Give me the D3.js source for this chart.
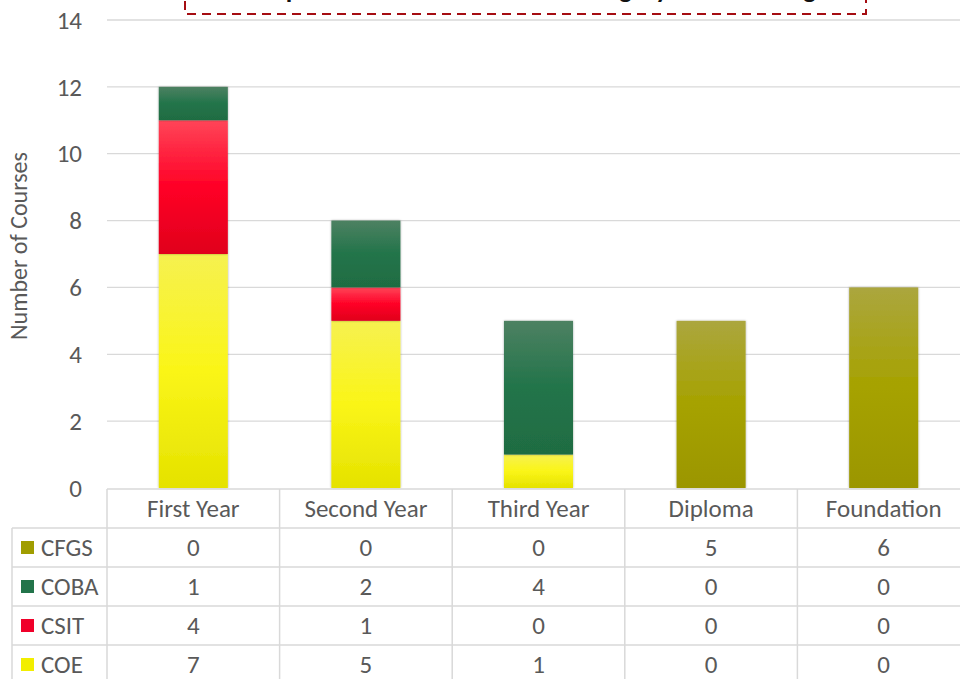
<!DOCTYPE html>
<html>
<head>
<meta charset="utf-8">
<script src="https://cdn.jsdelivr.net/npm/d3@7"></script>
<style>
  body { margin: 0; background: #fff; }
  svg { display: block; font-family: Calibri, Carlito, Lato, "Open Sans", sans-serif; }
  .grid line { stroke: #d9d9d9; stroke-width: 1.3; }
  .tick-label, .cell { fill: #595959; font-size: 25px; }
  .tline { stroke: #d9d9d9; stroke-width: 1.5; }
</style>
</head>
<body>
<svg id="chart" width="960" height="679"></svg>
<script>
// chart data
const categories = ['First Year', 'Second Year', 'Third Year', 'Diploma', 'Foundation'];
const seriesNames = ['COE', 'CSIT', 'COBA', 'CFGS'];   // stacking order, bottom to top
const coe  = [7, 5, 1, 0, 0];
const csit = [4, 1, 0, 0, 0];
const coba = [1, 2, 4, 0, 0];
const cfgs = [0, 0, 0, 5, 6];
const yTicks = [0, 2, 4, 6, 8, 10, 12, 14];
const tableRows = ['CFGS', 'COBA', 'CSIT', 'COE'];     // order of rows in the data table

const seriesValues = { COE: coe, CSIT: csit, COBA: coba, CFGS: cfgs };
const colors = {
    COE:  ['#f6f150', '#faf517', '#e5e200'],
    CSIT: ['#ff4558', '#ff0026', '#e0001c'],
    COBA: ['#4d8162', '#22744a', '#1f6c42'],
    CFGS: ['#aba63e', '#a6a200', '#9b9600']
};
const legendColors = { COE: '#f2ee00', CSIT: '#f0002a', COBA: '#22744a', CFGS: '#a09d00' };

const svg = d3.select('#chart');
const plotLeft = 107, plotRight = 970, plotTop = 20, plotBottom = 488;

const x = d3.scaleBand().domain(categories).range([plotLeft, plotRight])
    .paddingInner(0.6).paddingOuter(0.3);
const col = d3.scaleBand().domain(categories).range([plotLeft, plotRight]).padding(0);
const y = d3.scaleLinear().domain([0, 14]).range([plotBottom, plotTop]);

// gradients like the office fill
const defs = svg.append('defs');
seriesNames.forEach(function (s) {
    const g = defs.append('linearGradient').attr('id', 'grad-' + s)
        .attr('x1', 0).attr('y1', 0).attr('x2', 0).attr('y2', 1);
    g.append('stop').attr('offset', '0%').attr('stop-color', colors[s][0]);
    g.append('stop').attr('offset', '50%').attr('stop-color', colors[s][1]);
    g.append('stop').attr('offset', '100%').attr('stop-color', colors[s][2]);
});
const shadow = defs.append('filter').attr('id', 'shadow')
    .attr('x', '-20%').attr('y', '-5%').attr('width', '140%').attr('height', '110%');
shadow.append('feDropShadow').attr('dx', 0).attr('dy', 0).attr('stdDeviation', 1.2)
    .attr('flood-color', '#000').attr('flood-opacity', 0.35);

// grid lines
svg.append('g').attr('class', 'grid')
    .selectAll('line').data(yTicks.slice(1)).enter().append('line')
    .attr('x1', plotLeft).attr('x2', 960)
    .attr('y1', d => y(d)).attr('y2', d => y(d));

// y tick labels
svg.append('g').selectAll('text').data(yTicks).enter().append('text')
    .attr('class', 'tick-label')
    .attr('x', 82).attr('y', d => y(d))
    .attr('dy', '0.35em').attr('text-anchor', 'end')
    .text(d => d);

// axis title
svg.append('text')
    .attr('transform', 'translate(27,246) rotate(-90)')
    .attr('text-anchor', 'middle').attr('fill', '#595959').style('font-size', '24px')
    .text('Number of Courses');

// stacked bars
const rows = categories.map(function (c, i) {
    const r = { category: c };
    seriesNames.forEach(s => { r[s] = seriesValues[s][i]; });
    return r;
});
const stacked = d3.stack().keys(seriesNames)(rows);
svg.append('g').selectAll('g').data(stacked).enter().append('g')
    .attr('fill', d => 'url(#grad-' + d.key + ')')
    .selectAll('rect').data(d => d.filter(p => p[1] > p[0])).enter().append('rect')
    .attr('x', d => x(d.data.category))
    .attr('width', x.bandwidth())
    .attr('y', d => y(d[1]))
    .attr('height', d => y(d[0]) - y(d[1]))
    .attr('filter', 'url(#shadow)');

// data table
const rowH = 39;
const headerTop = plotBottom + 1, headerBottom = 528;
const tableLeft = 12;
const table = svg.append('g');
table.append('line').attr('class', 'tline')
    .attr('x1', plotLeft).attr('x2', 960).attr('y1', headerTop).attr('y2', headerTop);
tableRows.forEach(function (r, i) {
    const yy = headerBottom + i * rowH;
    table.append('line').attr('class', 'tline')
        .attr('x1', tableLeft).attr('x2', 960).attr('y1', yy).attr('y2', yy);
});
table.append('line').attr('class', 'tline')
    .attr('x1', tableLeft).attr('x2', tableLeft).attr('y1', headerBottom).attr('y2', 679);
categories.forEach(function (c) {
    table.append('line').attr('class', 'tline')
        .attr('x1', col(c)).attr('x2', col(c)).attr('y1', headerTop).attr('y2', 679);
});

// header
table.selectAll('text.head').data(categories).enter().append('text')
    .attr('class', 'cell head')
    .attr('x', d => col(d) + col.bandwidth() / 2)
    .attr('y', (headerTop + headerBottom) / 2)
    .attr('dy', '0.35em').attr('text-anchor', 'middle')
    .text(d => d);

tableRows.forEach(function (s, i) {
    const cy = headerBottom + i * rowH + rowH / 2;
    table.append('rect')
        .attr('x', 21).attr('y', cy - 6.5).attr('width', 13).attr('height', 13)
        .attr('fill', legendColors[s]);
    table.append('text').attr('class', 'cell')
        .attr('x', 41).attr('y', cy).attr('dy', '0.35em')
        .text(s);
    table.selectAll('text.v' + s).data(seriesValues[s]).enter().append('text')
        .attr('class', 'cell')
        .attr('x', (d, j) => col(categories[j]) + col.bandwidth() / 2)
        .attr('y', cy).attr('dy', '0.35em').attr('text-anchor', 'middle')
        .text(d => d);
});

// title box (cut by the top edge, as in the original)
svg.append('rect')
    .attr('x', 185).attr('y', -30).attr('width', 681).attr('height', 44)
    .attr('fill', 'none').attr('stroke', '#a50d12').attr('stroke-width', 2)
    .attr('stroke-dasharray', '9,6');
svg.append('text')
    .attr('x', 525).attr('y', -2).attr('text-anchor', 'middle')
    .attr('fill', '#111').style('font-size', '26.5px').style('font-weight', 'bold')
    .text('D1 Implementation for Courses Category across College');
</script>
</body>
</html>
